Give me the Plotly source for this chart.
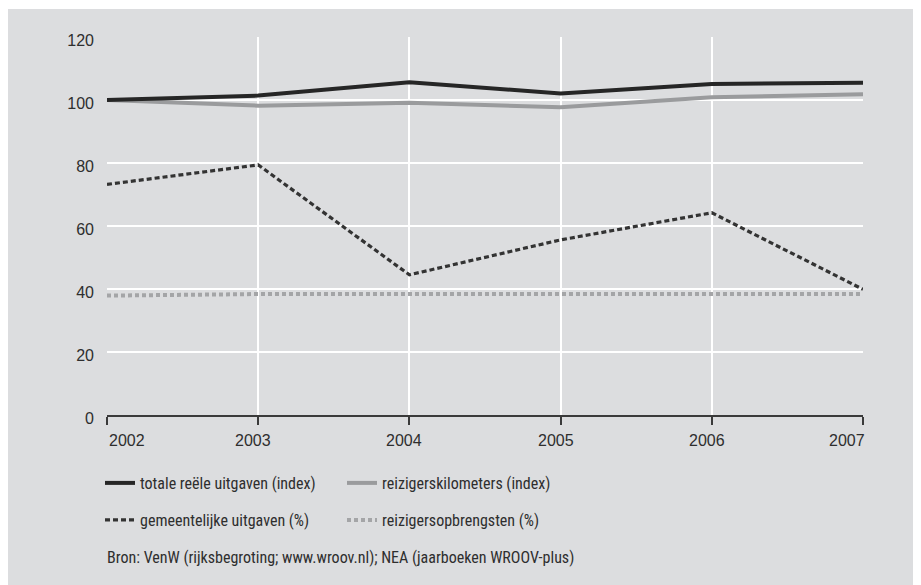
import plotly.graph_objects as go

years = [2002, 2003, 2004, 2005, 2006, 2007]
totale_uitgaven = [100, 101.4, 105.6, 102.1, 105.1, 105.5]
reizigerskm = [100, 98.2, 99.1, 97.7, 100.9, 101.8]
gemeentelijk = [73.2, 79.4, 44.5, 55.6, 64.2, 39.9]
opbrengsten = [37.9, 38.4, 38.4, 38.4, 38.4, 38.4]
y_ticks = [0, 20, 40, 60, 80, 100, 120]

names = ["totale reële uitgaven (index)", "reizigerskilometers (index)",
         "gemeentelijke uitgaven (%)", "reizigersopbrengsten (%)"]
source = "Bron: VenW (rijksbegroting; www.wroov.nl); NEA (jaarboeken WROOV-plus)"

# page has an 8px body margin; figure sized to fit the 921x585 window
OFF = 8
W, H = 921 - OFF, 585 - OFF
L, R, T, B = 107 - OFF, 58, 37 - OFF, 170
pw, ph = W - L - R, H - T - B

def px_x(x):  # page pixel -> paper
    return (x - OFF - L) / pw

def px_y(y):
    return (H - B - (y - OFF)) / ph

narrow = "Liberation Sans Narrow, Roboto Condensed, Liberation Sans, Arial"
regular = "Liberation Sans, Arial"
txt = "#2e2e2e"

fig = go.Figure()
fig.add_trace(go.Scatter(x=years, y=opbrengsten, name=names[3], mode="lines",
                         line=dict(color="#a4a5a7", width=4, dash="4px,3px"), legend="legend2"))
fig.add_trace(go.Scatter(x=years, y=gemeentelijk, name=names[2], mode="lines",
                         line=dict(color="#333333", width=3.2, dash="5px,3px"), legend="legend2"))
fig.add_trace(go.Scatter(x=years, y=reizigerskm, name=names[1], mode="lines",
                         line=dict(color="#9a9b9d", width=4), legend="legend"))
fig.add_trace(go.Scatter(x=years, y=totale_uitgaven, name=names[0], mode="lines",
                         line=dict(color="#262626", width=4), legend="legend"))

# gray panel
fig.add_shape(type="rect", xref="paper", yref="paper", layer="below",
              x0=px_x(0), x1=px_x(930), y0=px_y(600), y1=px_y(9),
              fillcolor="#dcdddf", line=dict(width=0))

# x tick labels
for i, yr in enumerate(years):
    if i == 0:
        xa, xs = "left", 0
    elif i == len(years) - 1:
        xa, xs = "right", 4
    else:
        xa, xs = "center", -5
    fig.add_annotation(x=yr, y=0, xref="x", yref="y", text=str(yr), showarrow=False,
                       xanchor=xa, yanchor="middle", yshift=-25, xshift=xs,
                       font=dict(family=regular, size=16, color=txt))

fig.add_annotation(x=px_x(105), y=px_y(557), xref="paper", yref="paper", text=source,
                   showarrow=False, xanchor="left", yanchor="middle",
                   font=dict(family=narrow, size=16, color=txt))

leg_common = dict(orientation="h", xanchor="left", yanchor="middle", traceorder="reversed",
                  bgcolor="rgba(0,0,0,0)", entrywidth=197, entrywidthmode="pixels",
                  font=dict(family=narrow, size=16, color=txt), itemwidth=30)

fig.update_layout(
    width=W, height=H,
    margin=dict(l=L, r=R, t=T, b=B),
    paper_bgcolor="white",
    plot_bgcolor="#ebebed",
    showlegend=True,
    legend=dict(x=px_x(100), y=px_y(483), **leg_common),
    legend2=dict(x=px_x(100), y=px_y(520), **leg_common),
    xaxis=dict(range=[2002, 2007], tickvals=years, showticklabels=False,
               showgrid=True, gridcolor="white", gridwidth=2,
               showline=True, linecolor="#3a3a3a", linewidth=1.5,
               ticks="outside", ticklen=8, tickcolor="#3a3a3a", tickwidth=1.5,
               zeroline=False, fixedrange=True),
    yaxis=dict(range=[0, 120], tickvals=y_ticks, showgrid=True, gridcolor="white", gridwidth=2,
               zeroline=False, showline=False, ticks="", ticklabelstandoff=12,
               ticklabelshift=3,
               tickfont=dict(family=regular, size=16, color=txt), fixedrange=True),
)

fig.write_html("out.html")
